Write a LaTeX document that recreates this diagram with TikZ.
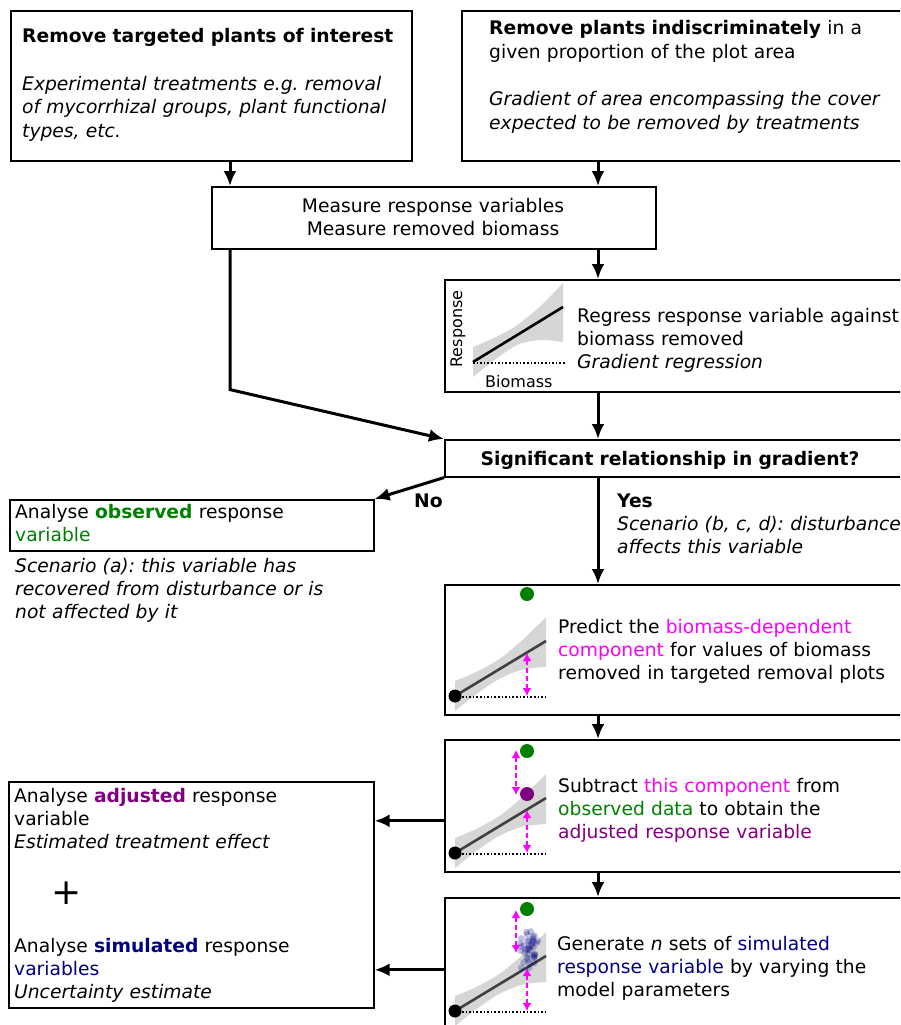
\documentclass[tikz,border=0pt]{standalone}
\usepackage{fontspec}
\setmainfont{DejaVu Sans}
\usetikzlibrary{arrows.meta}
\definecolor{grn}{RGB}{0,128,0}
\definecolor{mag}{RGB}{255,0,255}
\definecolor{pur}{RGB}{128,0,128}
\definecolor{nav}{RGB}{0,0,128}
\definecolor{band}{RGB}{214,214,214}
\definecolor{dline}{RGB}{64,64,64}
\frenchspacing
\begin{document}
\begin{tikzpicture}[x=1pt,y=-1pt,
  font=\fontsize{18.7pt}{23.4pt}\selectfont,
  box/.style={draw, line width=1.6pt, anchor=north west, inner sep=0pt},
  txt/.style={anchor=base west, align=left, text width=440pt, inner sep=0pt},
  small/.style={font=\fontsize{16pt}{19pt}\selectfont},
  arr/.style={line width=3pt, -{Latex[length=15pt,width=13pt]}},
  marr/.style={mag, dash pattern=on 5pt off 3pt, line width=1.8pt, {Latex[length=8pt,width=9pt]}-{Latex[length=8pt,width=9pt]}}]
\useasboundingbox (0,0) rectangle (900,1025);
\clip (0,0) rectangle (900,1025);
\coordinate (lc) at (230,0);
\coordinate (rc) at (598,0);

\node[box, minimum width=401pt, minimum height=150pt] (targ) at (10,10) {};
\node[box, minimum width=470pt, minimum height=150pt] (indis) at (461,10) {};
\node[box, minimum width=444pt, minimum height=62pt] (meas) at (211,186) {};
\node[box, minimum width=470pt, minimum height=112pt] (regr) at (444,279) {};
\node[box, minimum width=470pt, minimum height=37pt] (sig) at (444,439) {};
\node[box, minimum width=364pt, minimum height=51pt] (obs) at (9,499) {};
\node[box, minimum width=470pt, minimum height=130pt] (pred) at (444,584) {};
\node[box, minimum width=470pt, minimum height=132pt] (subt) at (444,739) {};
\node[box, minimum width=470pt, minimum height=144pt] (gen) at (444,897) {};
\node[box, minimum width=365pt, minimum height=226pt] (anal) at (8,781) {};

\node[txt] (targ-t) at (22,43) {\textbf{Remove targeted plants of interest}\\[24pt]
  \itshape Experimental treatments e.g. removal\\ of mycorrhizal groups, plant functional\\ types, etc.};
\node[txt] (indis-t) at (489,35) {\textbf{Remove plants indiscriminately} in a\\ given proportion of the plot area\\[24pt]
  \itshape Gradient of area encompassing the cover\\ expected to be removed by treatments};
\node[txt, anchor=base, align=center, text width=320pt] (meas-t) at (433,212) {Measure response variables\\ Measure removed biomass};
\node[txt] (regr-t) at (577,322) {Regress response variable against\\ biomass removed\\ \itshape Gradient regression};
\node[small, rotate=90] (resp) at (458,329) {Response};
\node[txt, small] (biom) at (485,387) {Biomass};
\node[txt, anchor=base, align=center, text width=420pt] (sig-t) at (670,465) {\bfseries Significant relationship in gradient?};
\node[txt] (obs-t) at (15,518) {Analyse \textbf{\color{grn}observed} response\\ \color{grn}variable};
\node[txt] (obs-n) at (15,572) {\itshape Scenario (a): this variable has\\ recovered from disturbance or is\\ not affected by it};
\node[txt] (no) at (414,507) {\bfseries No};
\node[txt] (yes) at (617,507) {\textbf{Yes}\\ \itshape Scenario (b, c, d): disturbance\\ affects this variable};
\node[txt] (pred-t) at (558,633) {Predict the \textcolor{mag}{biomass-dependent}\\ \textcolor{mag}{component} for values of biomass\\ removed in targeted removal plots};
\node[txt] (subt-t) at (558,792) {Subtract \textcolor{mag}{this component} from\\ \textcolor{grn}{observed data} to obtain the\\ \textcolor{pur}{adjusted response variable}};
\node[txt] (gen-t) at (557,950) {Generate \textit{n} sets of \textcolor{nav}{simulated}\\ \textcolor{nav}{response variable} by varying the\\ model parameters};
\node[txt] (anal-a) at (14,802) {Analyse \textbf{\color{pur}adjusted} response\\ variable\\ \itshape Estimated treatment effect};
\node (plus) at (67,893) {\fontsize{36pt}{40pt}\selectfont +};
\node[txt] (anal-s) at (14,952) {Analyse \textbf{\color{nav}simulated} response\\ \textcolor{nav}{variables}\\ \itshape Uncertainty estimate};

\begin{scope}[shift={(473,362)}]
\fill[band] plot[smooth] coordinates {(0,-15) (22,-24.4) (45,-37.5) (68,-56.5) (90,-79)}
  -- plot[smooth] coordinates {(90,-20) (68,-22) (45,-17.5) (22,-2.4) (0,15)} -- cycle;
\draw[dotted, line width=1.6pt] (0,1) -- (92,1);
\draw[line width=2.6pt] (0,0) -- (90,-55);
\end{scope}

\foreach \oy in {696,853,1011}{
\begin{scope}[shift={(455,\oy)}]
\fill[band] plot[smooth] coordinates {(0,-15) (22,-24.4) (45,-37.5) (68,-56.5) (91,-79)}
  -- plot[smooth] coordinates {(91,-29) (68,-26.5) (45,-17.5) (22,-2.4) (0,15)} -- cycle;
\draw[dotted, line width=1.6pt] (7,1) -- (91,1);
\draw[dline, line width=2.6pt] (0,0) -- (91,-55);
\fill (0,0) circle (6.5);
\fill[grn] (72,-102) circle (7);
\draw[marr] (72,-43) -- (72,0);
\end{scope}}

\begin{scope}[shift={(455,853)}]
\draw[marr] (61,-103) -- (61,-58);
\fill[pur] (72,-59) circle (7);
\end{scope}

\begin{scope}[shift={(455,1011)}]
\pgfmathsetseed{7}
\foreach \k in {1,...,40}
  \fill[nav, opacity=0.25] ({73+6*(rand+rand)},{-62+11*(rand+rand)}) circle (3.4);
\draw[marr] (61,-101) -- (61,-58);
\end{scope}

\draw[arr] (targ.south -| lc) -- (meas.north -| lc);
\draw[arr] (indis.south -| rc) -- (meas.north -| rc);
\draw[arr] (meas.south -| rc) -- (regr.north -| rc);
\draw[arr] (meas.south -| lc) -- ++(0,140) -- (sig.north west);
\draw[arr] (regr.south -| rc) -- (sig.north -| rc);
\draw[arr] (sig.south west) -- (obs.north east);
\draw[arr] (sig.south -| rc) -- (pred.north -| rc);
\draw[arr] (pred.south -| rc) -- (subt.north -| rc);
\draw[arr] (subt.south -| rc) -- (gen.north -| rc);
\path ([yshift=-15pt]subt.west) coordinate (s8);
\draw[arr] (s8) -- (s8 -| anal.east);
\draw[arr] (gen.west) -- (gen.west -| anal.east);
\end{tikzpicture}
\end{document}
